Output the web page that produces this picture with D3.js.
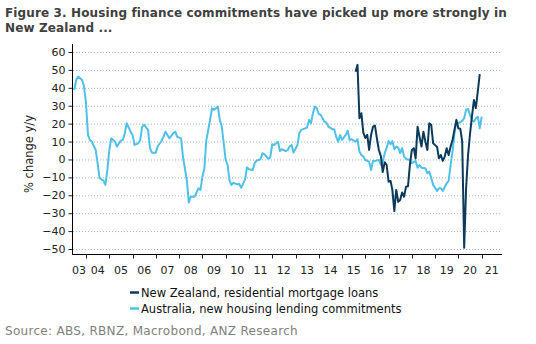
<!DOCTYPE html>
<html><head><meta charset="utf-8">
<script src="https://cdn.jsdelivr.net/npm/d3@7"></script>
<style>
body{margin:0;background:#fff;}
svg{display:block;font-family:"DejaVu Sans",Verdana,sans-serif;}
</style></head>
<body><svg id="c" width="536" height="344"></svg>
<script>
const titleLines = ["Figure 3. Housing finance commitments have picked up more strongly in", "New Zealand ..."];
const yLabel = "% change y/y";
const sourceText = "Source: ABS, RBNZ, Macrobond, ANZ Research";
const seriesNames = ["New Zealand, residential mortgage loans", "Australia, new housing lending commitments"];
const seriesColors = ["#0b3a5a", "#4fc0e8"];
const yTicks = [60, 50, 40, 30, 20, 10, 0, -10, -20, -30, -40, -50];
const yearLabels = ["03","04","05","06","07","08","09","10","11","12","13","14","15","16","17","18","19","20","21"];

const auMonths = ["2003-07","2003-08","2003-09","2003-11","2003-12","2004-01","2004-02","2004-03","2004-04","2004-06","2004-07","2004-08","2004-10","2004-11","2004-12","2005-01","2005-02","2005-04","2005-05","2005-07","2005-08","2005-09","2005-10","2005-12","2006-01","2006-02","2006-04","2006-05","2006-06","2006-07","2006-09","2006-10","2006-11","2007-01","2007-02","2007-04","2007-05","2007-06","2007-08","2007-10","2007-11","2007-12","2008-02","2008-03","2008-05","2008-06","2008-07","2008-09","2008-11","2008-12","2009-01","2009-02","2009-03","2009-05","2009-06","2009-07","2009-08","2009-09","2009-10","2009-11","2010-01","2010-02","2010-03","2010-04","2010-05","2010-07","2010-08","2010-09","2010-11","2010-12","2011-01","2011-03","2011-04","2011-05","2011-07","2011-08","2011-09","2011-11","2011-12","2012-01","2012-02","2012-04","2012-05","2012-06","2012-08","2012-09","2012-10","2012-11","2012-12","2013-02","2013-03","2013-04","2013-05","2013-07","2013-08","2013-09","2013-10","2013-11","2013-12","2014-01","2014-02","2014-04","2014-05","2014-06","2014-08","2014-09","2014-10","2014-11","2014-12","2015-01","2015-03","2015-04","2015-05","2015-06","2015-08","2015-09","2015-10","2015-11","2015-12","2016-01","2016-03","2016-04","2016-05","2016-06","2016-08","2016-09","2016-10","2016-11","2016-12","2017-01","2017-02","2017-03","2017-04","2017-05","2017-06","2017-07","2017-08","2017-09","2017-10","2017-12","2018-01","2018-03","2018-04","2018-05","2018-06","2018-08","2018-09","2018-10","2018-11","2018-12","2019-02","2019-03","2019-04","2019-05","2019-07","2019-08","2019-09","2019-10","2019-11","2019-12","2020-01","2020-03","2020-04","2020-05","2020-06","2020-07","2020-08","2020-09","2020-10","2020-11","2020-12","2021-01"];
const auValues = [38.8,44.4,46.3,44.4,40.7,31.4,13.7,10.9,9.9,5.3,-2.1,-10.5,-11.8,-14.2,-5.9,5.3,11.8,9.9,7.2,10.5,10.9,14.6,20.2,15.5,13.7,8.1,9.0,10.9,18.3,19.3,16.5,6.3,3.8,3.8,7.5,10.3,12.7,15.5,11.8,14.6,15.5,12.7,11.8,1.6,-11.5,-24.1,-20.8,-20.8,-16.1,-17,-9.6,-5,10,22.1,28.6,27.7,28.6,29.5,22.1,18.3,-0.3,-3.1,-11.5,-14.2,-13,-13.9,-13.7,-15.8,-11.1,-4.4,-5.5,-5.9,-2.1,-0.7,0.1,3.5,2.9,0.3,1.0,8.5,8.1,9.9,4.7,5.7,4.7,5.3,7.2,8.1,3.8,8.1,14.6,16.5,16.9,17.8,22.1,20.2,25.8,29.5,28.6,25.4,24.9,21.1,20.6,18.3,16.9,16.9,12.7,9.9,13.7,10.9,13.7,16.1,10.9,11.3,9.9,11.3,4.4,2.5,1.6,-0.3,-1.2,-5.9,-0.8,-0.8,-0.3,-3.1,-1.2,3.5,6.3,10.3,8.5,10.3,5.7,7.2,6.6,3.5,6.3,1.6,0.3,-0.3,-2.1,-0.8,-4.6,-3.1,-4.6,-4.9,-7.7,-6.8,-10.2,-14.2,-17.6,-16.1,-16.1,-17.6,-13.3,-12,-3.1,4.4,14.6,21.5,20.2,21.5,23.0,27.7,28.2,24.9,22.1,21.1,23.0,23.9,17.4,23.9];

const nzMonths = ["2015-08","2015-09","2015-10","2015-11","2015-12","2016-01","2016-02","2016-03","2016-04","2016-05","2016-06","2016-07","2016-08","2016-09","2016-10","2016-11","2016-12","2017-01","2017-02","2017-03","2017-04","2017-05","2017-06","2017-07","2017-08","2017-09","2017-10","2017-11","2017-12","2018-01","2018-02","2018-03","2018-04","2018-05","2018-06","2018-07","2018-08","2018-09","2018-10","2018-11","2018-12","2019-01","2019-02","2019-03","2019-04","2019-05","2019-06","2019-07","2019-08","2019-09","2019-10","2019-11","2019-12","2020-01","2020-02","2020-03","2020-04","2020-05","2020-06","2020-07","2020-08","2020-09","2020-10","2020-11","2020-12"];
const nzValues = [49,52.8,23,25.8,15,12,13.7,5.3,13.7,18.3,18.9,11.8,5.3,2,-7,-1.5,-3.1,-12.4,-12,-17,-28.8,-17,-23.6,-22.6,-18.5,-20.8,-15.2,-15,-3,5.3,6.3,0.5,18.3,12.7,7.2,15.5,10,5.3,20.2,19.3,9,8,7,0.7,2.5,-0.8,1.6,6.3,2.5,7.2,10.9,16.5,22.1,17.4,17,10,-49.3,-16.1,2.5,14,24,33.2,28.6,38,47.6];

const parseM = d3.timeParse("%Y-%m");
const au = auMonths.map((m,i)=>({d:parseM(m), v:auValues[i]}));
const nz = nzMonths.map((m,i)=>({d:parseM(m), v:nzValues[i]}));

const svg = d3.select("#c");
const L = 72, R = 502, T = 44, B = 254;
const x = d3.scaleTime().domain([new Date(2004,0,1), new Date(2021,0,1)]).range([86, 481.7]);
const y = d3.scaleLinear().domain([-50, 60]).range([249, 52]);

// title
svg.append("g").selectAll("text").data(titleLines).join("text")
  .attr("x", 5).attr("y", (d,i)=>17 + i*15)
  .attr("font-size", 12).attr("letter-spacing", 0.13).attr("font-weight", "bold").attr("fill", "#404040")
  .text(d=>d);

// gridlines
svg.append("g").selectAll("line").data(yTicks).join("line")
  .attr("x1", L+1).attr("x2", R).attr("y1", d=>y(d)+0.5).attr("y2", d=>y(d)+0.5)
  .attr("stroke", "#9db4c6").attr("stroke-width", 1).attr("stroke-dasharray", "1,2");

// y axis
const ya = svg.append("g").attr("transform", `translate(${L+0.5},0)`)
  .call(d3.axisLeft(y).tickValues(yTicks).tickSize(4).tickPadding(3).tickSizeOuter(0));
ya.select(".domain").remove();
ya.append("line").attr("y1", T).attr("y2", B).attr("stroke", "#000");
ya.selectAll("text").attr("font-size", 11).attr("font-family", "DejaVu Sans").attr("fill", "#222");
ya.selectAll(".tick line").attr("stroke", "#222");

// x axis
const yearTicks = d3.range(2004, 2022).map(yr=>new Date(yr,0,1));
const xa = svg.append("g").attr("transform", `translate(0,${B+0.5})`);
xa.append("line").attr("x1", L).attr("x2", R).attr("stroke", "#000");
xa.selectAll("line.t").data(yearTicks).join("line").attr("class","t")
  .attr("x1", d=>Math.round(x(d))+0.5).attr("x2", d=>Math.round(x(d))+0.5).attr("y1", 0).attr("y2", 4).attr("stroke", "#222");
const labelPos = yearLabels.map((lab,i)=>{
  const yr = 2003 + i;
  const a = Math.max(L, x(new Date(yr,0,1)));
  const b = Math.min(R, x(new Date(yr+1,0,1)));
  return {lab, cx:(a+b)/2};
});
xa.selectAll("text").data(labelPos).join("text")
  .attr("x", d=>d.cx).attr("y", 19).attr("text-anchor","middle")
  .attr("font-size", 11).attr("fill", "#222").text(d=>d.lab);

// y label
svg.append("text").attr("transform", "translate(33,154) rotate(-90)")
  .attr("text-anchor","middle").attr("font-size", 11.5).attr("fill", "#222").text(yLabel);

// lines
const line = d3.line().x(d=>x(d.d)).y(d=>y(d.v)).curve(d3.curveLinear);
svg.append("path").datum(au).attr("d", line).attr("fill","none")
  .attr("stroke", seriesColors[1]).attr("stroke-width", 2).attr("stroke-linejoin","round");
svg.append("path").datum(nz).attr("d", line).attr("fill","none")
  .attr("stroke", seriesColors[0]).attr("stroke-width", 2).attr("stroke-linejoin","round");

// legend
const lg = svg.append("g").selectAll("g").data(seriesNames).join("g")
  .attr("transform", (d,i)=>`translate(130,${292 + i*16})`);
lg.append("line").attr("x1",0).attr("x2",9).attr("y1",0.5).attr("y2",0.5)
  .attr("stroke",(d,i)=>seriesColors[i]).attr("stroke-width",2.5);
lg.append("text").attr("x", 11).attr("y", 4.5).attr("font-size", 11.5).attr("fill","#111").text(d=>d);

// source
svg.append("text").attr("x", 5).attr("y", 335).attr("font-size", 12).attr("letter-spacing", 0.3).attr("fill","#808080").text(sourceText);
</script></body></html>
